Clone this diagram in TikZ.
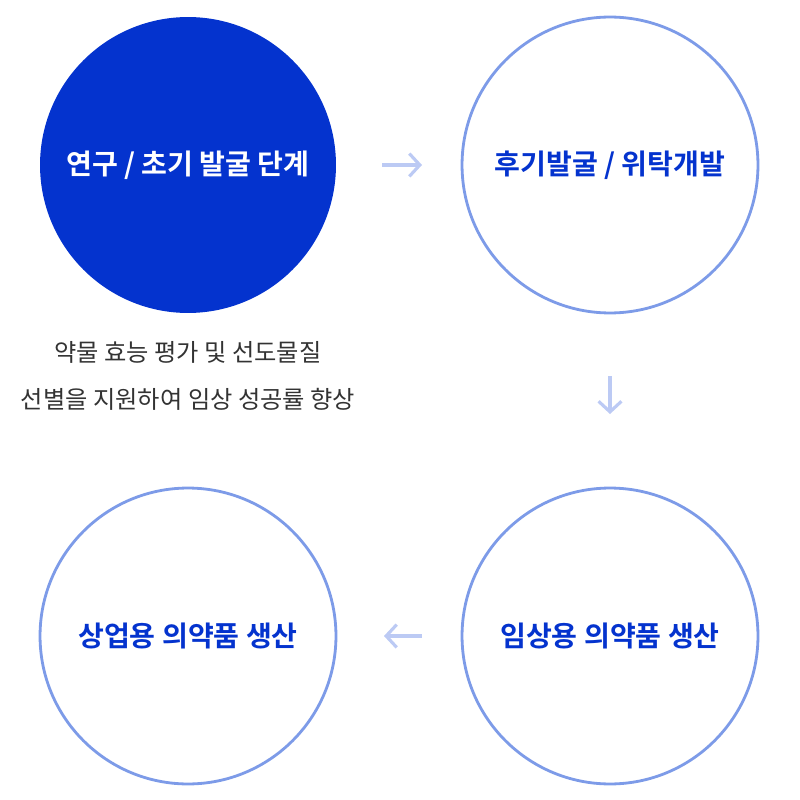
\documentclass[tikz,border=0pt]{standalone}
\usepackage{fontspec}
\newfontfamily\kr{Noto Sans CJK KR}
\newfontfamily\krb{Noto Sans CJK KR Bold}
\definecolor{deep}{HTML}{0433CE}
\definecolor{ring}{HTML}{7D9BE8}
\definecolor{arr}{HTML}{BCCAF4}
\definecolor{txt}{HTML}{333333}
\begin{document}
\begin{tikzpicture}[x=0.02cm,y=-0.02cm,
  stage/.style={circle,minimum size=5.92cm,inner sep=0pt,line width=1.6pt},
  lbl/.style={font=\krb\fontsize{16}{19}\selectfont},
  flow/.style={draw=arr,line width=1.8pt,-{Straight Barb[length=6pt,width=13pt]}}]
\usetikzlibrary{arrows.meta}
\useasboundingbox (0,0) rectangle (800,800);
\node[stage,fill=deep] (a) at (188,165) {};
\node[lbl,text=white] at (a) {연구 / 초기 발굴 단계};
\node[stage,draw=ring,fill=white] (b) at (610,165) {};
\node[lbl,text=deep] at (b) {후기발굴 / 위탁개발};
\node[stage,draw=ring,fill=white] (d) at (610,636) {};
\node[lbl,text=deep] at (d) {임상용 의약품 생산};
\node[stage,draw=ring,fill=white] (c) at (188,636) {};
\node[lbl,text=deep] at (c) {상업용 의약품 생산};
\node[font=\kr\fontsize{13.8}{27}\selectfont,text=txt,align=center] (t) at (188,376) {약물 효능 평가 및 선도물질\\선별을 지원하여 임상 성공률 향상};
\coordinate (r1) at (382,165); \coordinate (r2) at (422,165);
\coordinate (d1) at (610,376); \coordinate (d2) at (610,414);
\coordinate (l1) at (422,636); \coordinate (l2) at (384,636);
\draw[flow] (r1) -- (r2);
\draw[flow] (d1) -- (d2);
\draw[flow] (l1) -- (l2);
\end{tikzpicture}
\end{document}
